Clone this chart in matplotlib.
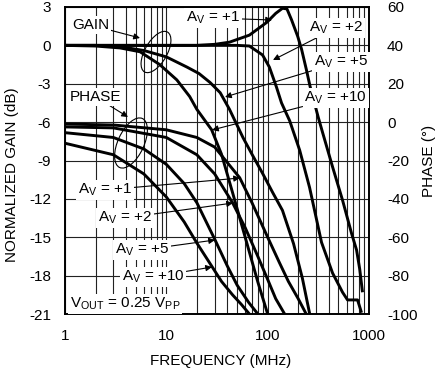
import numpy as np
import matplotlib
matplotlib.use('Agg')
import matplotlib.pyplot as plt
from matplotlib.patches import Ellipse
from matplotlib.ticker import LogLocator, NullFormatter

plt.rcParams['font.family'] = ['Liberation Sans', 'DejaVu Sans']
plt.rcParams['mathtext.fontset'] = 'custom'
plt.rcParams['mathtext.rm'] = 'Liberation Sans'

# ---------------- data ----------------
# Gain curves (MHz, dB)
g1_f = [1, 10, 20, 30, 42, 66, 98, 120, 140, 155, 172, 198, 216, 241, 262, 285, 315, 348, 437, 548, 673, 754, 810, 863]
g1_db = [0, 0, 0, 0.08, 0.25, 0.8, 1.8, 2.5, 2.9, 2.85, 2.0, 0.7, -0.3, -1.9, -3.2, -4.3, -5.6, -6.8, -9.5, -12.1, -14.7, -16.0, -17.5, -19.3]

g2_f = [1, 10, 30, 50, 66, 89, 104, 122, 137, 165, 207, 259, 340, 437, 548, 614, 771, 844]
g2_db = [0, 0, 0, 0, -0.05, -0.75, -1.7, -3.25, -4.5, -5.9, -8.2, -11.1, -15.4, -17.8, -19.3, -19.9, -19.9, -20.9]

g5_f = [1, 2, 3.5, 6, 10, 16, 21, 27, 34, 42, 57, 71, 89, 112, 140, 180, 220, 260]
g5_db = [0, 0, -0.1, -0.4, -0.9, -1.7, -2.2, -2.9, -3.7, -5.0, -7.2, -8.6, -10.0, -11.5, -12.9, -15.5, -18.2, -21.0]

g10_f = [1, 2, 3.5, 5.5, 8.6, 12.7, 17, 20, 28, 35, 45, 60, 80, 100]
g10_db = [0, -0.05, -0.2, -0.5, -1.5, -2.7, -4.0, -5.0, -6.6, -8.5, -11.5, -15.0, -18.5, -21.0]

# Phase curves (MHz, degrees)
p1_f = [1, 3, 10, 20, 30, 53, 70, 100, 130, 160, 200, 240]
p1_deg = [-1, -1.5, -4, -8, -13, -29, -42, -60, -73, -83, -92, -100]

p2_f = [1, 3, 10, 20, 30, 45, 60, 80, 100, 120, 147]
p2_deg = [-2.5, -3, -8, -17, -27, -42, -55, -70, -82, -92, -100]

p5_f = [1, 3, 6, 10, 15, 20, 30, 40, 50, 65, 80]
p5_deg = [-5.5, -8, -14, -22, -32, -42, -61, -75, -85, -94, -100]

p10_f = [1, 3, 6, 10, 15, 20, 28, 35, 45, 55, 66]
p10_deg = [-11, -17, -27, -39, -52, -63, -75, -83, -90, -95, -100]

x_ticks = [1, 10, 100, 1000]
x_ticklabels = ['1', '10', '100', '1000']
gain_ticks = [3, 0, -3, -6, -9, -12, -15, -18, -21]
phase_ticks = [60, 40, 20, 0, -20, -40, -60, -80, -100]

# ---------------- figure ----------------
W, H = 439, 372
fig = plt.figure(figsize=(W / 100, H / 100), dpi=100)
L, R, T, B = 65, 369, 7, 314
ax = fig.add_axes([L / W, 1 - B / H, (R - L) / W, (B - T) / H])
ax.set_xscale('log')
ax.set_xlim(1, 1000)
ax.set_ylim(-21, 3)
ax.set_xticks(x_ticks)
ax.set_xticklabels(x_ticklabels)
ax.xaxis.set_minor_locator(LogLocator(base=10, subs=range(2, 10)))
ax.xaxis.set_minor_formatter(NullFormatter())
ax.set_yticks(gain_ticks)
ax.set_yticklabels([str(v) for v in gain_ticks])
ax.grid(True, which='both', axis='x', color='#222222', lw=0.8)
ax.grid(True, which='major', axis='y', color='#222222', lw=0.8)
ax.set_axisbelow(True)
ax.tick_params(which='both', length=0, labelsize=11)
ax.tick_params(axis='y', pad=10)
ax.tick_params(axis='x', pad=11)
for s in ax.spines.values():
    s.set_linewidth(1.2)

ax2 = ax.twinx()
ax2.set_ylim(-100, 60)
ax2.set_yticks(phase_ticks)
ax2.set_yticklabels([str(v) for v in phase_ticks])
ax2.tick_params(length=0, labelsize=11, pad=13)
for s in ax2.spines.values():
    s.set_linewidth(1.2)


def P(x, y):
    """pixel position -> axes fraction"""
    return ((x - L) / (R - L), (B - y) / (B - T))


ax.set_xlabel('FREQUENCY (MHz)', fontsize=11)
ax.xaxis.set_label_coords(*P(221, 361))
ax.set_ylabel('NORMALIZED GAIN (dB)', fontsize=11)
ax.yaxis.set_label_coords(*P(12, 175))
ax2.set_ylabel('PHASE (°)', fontsize=11, rotation=90)
ax2.yaxis.set_label_coords(*P(429, 161))
ax.xaxis.label.set_va('center')
ax.yaxis.label.set_va('center')
ax2.yaxis.label.set_va('center')

lw = 2.1
for f, v in [(g1_f, g1_db), (g2_f, g2_db), (g5_f, g5_db), (g10_f, g10_db)]:
    ax.plot(f, v, color='black', lw=lw, solid_capstyle='butt', zorder=5)
for f, v in [(p1_f, p1_deg), (p2_f, p2_deg), (p5_f, p5_deg), (p10_f, p10_deg)]:
    ax2.plot(f, v, color='black', lw=lw, solid_capstyle='butt', zorder=5)


box = dict(boxstyle='square,pad=0.12', fc='white', ec='none')
arr = dict(arrowstyle='-|>', color='black', lw=0.8, mutation_scale=9, shrinkA=0, shrinkB=0)


def label(txt, tx, ty, ha, target=None):
    if target is None:
        ax2.annotate(txt, xy=P(tx, ty), xycoords='axes fraction', ha=ha, va='center',
                     fontsize=11, bbox=box, zorder=10)
    else:
        ax2.annotate(txt, xy=P(*target), xycoords='axes fraction',
                     xytext=P(tx, ty), textcoords='axes fraction', ha=ha, va='center',
                     fontsize=11, bbox=box, zorder=10, arrowprops=dict(arr))


AV = r'A$_{\mathregular{V}}$'
label('GAIN', 72, 25, 'left', (140, 38))
label('PHASE', 70, 97, 'left', (128, 117))
label(AV + ' = +1', 240, 18, 'right', (272, 20))
label(AV + ' = +2', 363, 28, 'right', (273, 60))
label(AV + ' = +5', 368, 62, 'right', (225, 97))
label(AV + ' = +10', 367, 98, 'right', (212, 130))
label(AV + ' = +1', 78, 190, 'left', (240, 178))
label(AV + ' = +2', 98, 218, 'left', (233, 203))
label(AV + ' = +5', 115, 250, 'left', (215, 240))
label(AV + ' = +10', 122, 277, 'left', (212, 267))
label(r'V$_{\mathregular{OUT}}$ = 0.25 V$_{\mathregular{PP}}$', 70, 304, 'left')

for cx, cy, w, h, a in [(156, 52, 46, 22, 60), (131, 143, 54, 26, 65)]:
    e = Ellipse((cx / 100, (H - cy) / 100), w / 100, h / 100, angle=a,
                transform=fig.dpi_scale_trans, fill=False, ec='black', lw=0.8, zorder=11)
    fig.add_artist(e)

fig.savefig('out.png', dpi=100)
